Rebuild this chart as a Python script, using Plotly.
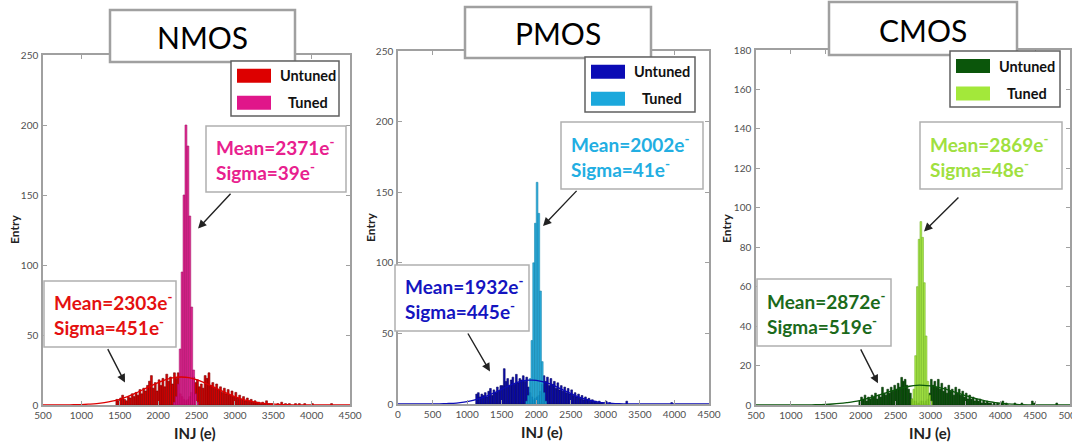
import plotly.graph_objects as go

W, H = 1072, 445

# ---------------- data ----------------
panels = ["NMOS", "PMOS", "CMOS"]

# untuned histograms (bin start, bin width, counts)
nmos_untuned_start, nmos_untuned_width = 1450, 25
nmos_untuned = [4, 3, 5, 7, 4, 3, 6, 5, 8, 6, 9, 7, 11, 8, 12, 10, 14, 17, 21, 12,
                16, 10, 18, 14, 19, 13, 22, 17, 20, 15, 23, 19, 23, 8, 6, 4, 3, 4, 6, 9,
                20, 16, 18, 13, 15, 12, 21, 19, 23, 14, 16, 12, 15, 11, 13, 9, 12, 8, 11, 7,
                10, 6, 9, 5, 7, 4, 6, 3, 5, 3, 4, 2, 3, 2, 2, 1, 2, 1, 3, 1, 1, 1]
nmos_tail_x = [3560, 3610, 3660, 3710, 3790, 3840, 3910, 4010, 4260]
nmos_tail_y = [1, 2, 1, 1, 1, 1, 1, 1, 1]

pmos_untuned_start, pmos_untuned_width = 1125, 25
pmos_untuned = [7, 8, 5, 7, 6, 8, 5, 9, 11, 6, 10, 8, 12, 9, 13, 13, 25, 16, 18, 13,
                17, 19, 14, 21, 15, 18, 17, 20, 16, 19, 12, 8, 5, 3, 4, 5, 6, 9, 14, 20,
                16, 19, 13, 18, 14, 16, 11, 15, 10, 13, 9, 12, 8, 11, 7, 10, 6, 8, 5, 7,
                4, 6, 3, 5, 3, 4, 2, 3, 2, 2, 1, 2, 1, 1, 0, 2, 0, 1, 0, 0]
pmos_tail_x = [3310, 3960]
pmos_tail_y = [2, 1]

cmos_untuned_start, cmos_untuned_width = 1975, 25
cmos_untuned = [2, 4, 3, 5, 2, 4, 3, 5, 4, 6, 3, 5, 4, 9, 6, 5, 8, 6, 9, 7,
                10, 8, 11, 9, 14, 12, 13, 10, 8, 6, 3, 2, 2, 1, 1, 2, 2, 1, 2, 3,
                6, 13, 10, 12, 9, 13, 8, 11, 7, 9, 6, 10, 7, 8, 5, 9, 6, 8, 5, 7,
                4, 6, 3, 5, 3, 4, 2, 3, 2, 3, 1, 2, 1, 2, 1, 1, 0, 1, 0, 1,
                0, 1, 2, 0, 1, 0]
cmos_tail_x = [4210, 4310, 4460, 4490, 4810]
cmos_tail_y = [1, 1, 2, 1, 1]

# tuned histograms
nmos_tuned_start, nmos_tuned_width = 2200, 25
nmos_tuned = [2, 6, 15, 40, 95, 150, 200, 185, 135, 70, 25, 8, 2]
pmos_tuned_start, pmos_tuned_width = 1850, 25
pmos_tuned = [2, 6, 18, 45, 100, 128, 157, 135, 80, 30, 8, 2]
cmos_tuned_start, cmos_tuned_width = 2725, 25
cmos_tuned = [3, 8, 25, 60, 84, 93, 85, 62, 35, 12, 5, 2]

# fit curves of the untuned distributions (read every 100 e)
nmos_fit_x = list(range(500, 4600, 100))
nmos_fit_y = [0, 0, 0, 0.1, 0.2, 0.3, 0.6, 1.0, 1.7, 2.7, 4.1, 6.0, 8.3, 10.9, 13.5, 16.0,
              18.1, 19.6, 20.0, 19.6, 18.1, 16.0, 13.5, 10.9, 8.3, 6.0, 4.1, 2.7, 1.7, 1.0,
              0.6, 0.3, 0.2, 0.1, 0, 0, 0, 0, 0, 0, 0]
pmos_fit_x = list(range(0, 4600, 100))
pmos_fit_y = [0, 0, 0, 0, 0, 0, 0.1, 0.3, 0.5, 1.0, 1.7, 2.7, 4.1, 5.9, 8.1, 10.4,
              12.8, 14.8, 16.3, 16.9, 16.8, 15.7, 14.2, 12.0, 9.7, 7.4, 5.3, 3.6, 2.3, 1.4,
              0.8, 0.4, 0.2, 0.1, 0, 0, 0, 0, 0, 0, 0, 0, 0, 0, 0, 0]
cmos_fit_x = list(range(500, 5100, 100))
cmos_fit_y = [0, 0, 0, 0, 0, 0, 0, 0, 0.1, 0.2, 0.3, 0.5, 0.8, 1.2, 1.7, 2.4,
              3.3, 4.3, 5.5, 6.6, 7.7, 8.7, 9.5, 10.0, 10.0, 9.7, 9.1, 8.2, 7.1, 6.0,
              4.8, 3.7, 2.8, 2.0, 1.4, 0.9, 0.6, 0.4, 0.2, 0.1, 0.1, 0, 0, 0, 0, 0]

means_tuned = ["2371", "2002", "2869"]
sigmas_tuned = ["39", "41", "48"]
means_untuned = ["2303", "1932", "2872"]
sigmas_untuned = ["451", "445", "519"]

x_ranges = [[500, 4500], [0, 4500], [500, 5000]]
x_ticks = [list(range(500, 5000, 500)), list(range(0, 5000, 500)), list(range(500, 5500, 500))]
y_ranges = [[0, 250], [0, 250], [0, 180]]
y_ticks = [list(range(0, 300, 50)), list(range(0, 300, 50)), list(range(0, 200, 20))]

untuned_colors = ["#DD0000", "#0B0BB5", "#0B560B"]
untuned_edges = ["#7A0000", "#050560", "#053005"]
tuned_colors = ["#E0168A", "#1BA8DC", "#A3E83A"]
tuned_edges = ["#A00A60", "#0E7FA8", "#6FB020"]
text_tuned_colors = ["#E8208E", "#22AEE2", "#A0E040"]
text_untuned_colors = ["#E41010", "#1414C0", "#1B6A1B"]

# ---------------- layout geometry (pixels) ----------------
plot_px = [(43, 350, 55, 405), (398, 709, 51, 404), (756, 1070, 50, 405)]
title_box = [(110, 295, 10, 62), (465, 651, 7, 58), (829, 1017, 2, 55)]
legend_box = [(231, 339, 61, 116), (585, 695, 57, 112), (950, 1060, 51, 107)]
tuned_box = [(206, 346, 126, 192), (561, 703, 122, 189), (920, 1062, 122, 189)]
untuned_box = [(44, 176, 281, 347), (395, 529, 265, 331), (757, 891, 279, 346)]
entry_pos = [(14, 230), (371, 228), (727, 228)]
inj_pos = [(195, 433), (542, 432), (930, 433)]
arrow_tuned = [((2962, 152), (2520, 126)), ((2605, 152), (2098, 126)), ((3423, 106), (2908, 88))]
arrow_untuned = [((1334, 41), (1568, 16)), ((999, 51), (1331, 23)), ((1990, 29), (2248, 11))]


def fx(x):
    return x / W


def fy(y):
    return 1 - y / H


def centers(start, width, n):
    return [start + width * (i + 0.5) for i in range(n)]


untuned_sets = [
    (nmos_untuned_start, nmos_untuned_width, nmos_untuned, nmos_tail_x, nmos_tail_y),
    (pmos_untuned_start, pmos_untuned_width, pmos_untuned, pmos_tail_x, pmos_tail_y),
    (cmos_untuned_start, cmos_untuned_width, cmos_untuned, cmos_tail_x, cmos_tail_y),
]
tuned_sets = [
    (nmos_tuned_start, nmos_tuned_width, nmos_tuned),
    (pmos_tuned_start, pmos_tuned_width, pmos_tuned),
    (cmos_tuned_start, cmos_tuned_width, cmos_tuned),
]
fit_sets = [(nmos_fit_x, nmos_fit_y), (pmos_fit_x, pmos_fit_y), (cmos_fit_x, cmos_fit_y)]

FONT = "Lato"
fig = go.Figure()
shapes = []
annotations = []
layout_axes = {}

for i in range(3):
    xa = "x" if i == 0 else f"x{i+1}"
    ya = "y" if i == 0 else f"y{i+1}"
    s, w, vals, tx, ty = untuned_sets[i]
    xs = centers(s, w, len(vals)) + tx
    ys = vals + ty
    fig.add_trace(go.Bar(x=xs, y=ys, width=w, xaxis=xa, yaxis=ya,
                         marker=dict(color=untuned_colors[i],
                                     line=dict(color=untuned_edges[i], width=0.6)),
                         showlegend=False, hoverinfo="x+y"))
    ts, tw, tv = tuned_sets[i]
    fig.add_trace(go.Bar(x=centers(ts, tw, len(tv)), y=tv, width=tw, xaxis=xa, yaxis=ya,
                         marker=dict(color=tuned_colors[i], opacity=0.92,
                                     line=dict(color=tuned_edges[i], width=0.6)),
                         showlegend=False, hoverinfo="x+y"))
    fxs, fys = fit_sets[i]
    fig.add_trace(go.Scatter(x=fxs, y=fys, mode="lines", xaxis=xa, yaxis=ya,
                             line=dict(color=untuned_colors[i], width=1.3, shape="spline"),
                             showlegend=False, hoverinfo="skip"))

    l, r, t, b = plot_px[i]
    axis_common = dict(showline=True, linecolor="#A0A0A0", linewidth=1.5, mirror="ticks",
                       ticks="inside", ticklen=4, tickcolor="#A0A0A0", showgrid=False,
                       zeroline=False, automargin=False,
                       tickfont=dict(family=FONT, size=10, color="#505050"))
    layout_axes["xaxis" if i == 0 else f"xaxis{i+1}"] = dict(
        domain=[fx(l), fx(r)], range=x_ranges[i], tickvals=x_ticks[i],
        anchor=ya, ticklabelstandoff=0, ticklabeloverflow="allow", **axis_common)
    layout_axes["yaxis" if i == 0 else f"yaxis{i+1}"] = dict(
        domain=[fy(b), fy(t)], range=y_ranges[i], tickvals=y_ticks[i],
        anchor=xa, ticklabelstandoff=1, **axis_common)

    # title box
    x0, x1, y0, y1 = title_box[i]
    shapes.append(dict(type="rect", xref="paper", yref="paper", x0=fx(x0), x1=fx(x1),
                       y0=fy(y1), y1=fy(y0), line=dict(color="#A0A0A0", width=2.5),
                       fillcolor="white", layer="above"))
    annotations.append(dict(xref="paper", yref="paper", x=fx((x0 + x1) / 2), y=fy((y0 + y1) / 2 + 1),
                            text=panels[i], showarrow=False, xanchor="center", yanchor="middle",
                            font=dict(family=FONT, size=30, color="black")))

    # legend box
    x0, x1, y0, y1 = legend_box[i]
    shapes.append(dict(type="rect", xref="paper", yref="paper", x0=fx(x0), x1=fx(x1),
                       y0=fy(y1), y1=fy(y0), line=dict(color="#606060", width=1.5),
                       fillcolor="white", layer="above"))
    sw_x0 = x0 + 6
    h = y1 - y0
    for k, (lab, col) in enumerate([("Untuned", untuned_colors[i]), ("Tuned", tuned_colors[i])]):
        cy = y0 + h * (0.27 if k == 0 else 0.76)
        shapes.append(dict(type="rect", xref="paper", yref="paper", x0=fx(sw_x0), x1=fx(sw_x0 + 34),
                           y0=fy(cy + 7), y1=fy(cy - 7), line=dict(width=0),
                           fillcolor=col, layer="above"))
        annotations.append(dict(xref="paper", yref="paper", x=fx(x0 + 77), y=fy(cy),
                                text=f"<b>{lab}</b>", showarrow=False, xanchor="center",
                                yanchor="middle", font=dict(family=FONT, size=14.5, color="#111")))

    # stat boxes
    for box, mean, sig, col in [(tuned_box[i], means_tuned[i], sigmas_tuned[i], text_tuned_colors[i]),
                                (untuned_box[i], means_untuned[i], sigmas_untuned[i], text_untuned_colors[i])]:
        x0, x1, y0, y1 = box
        shapes.append(dict(type="rect", xref="paper", yref="paper", x0=fx(x0), x1=fx(x1),
                           y0=fy(y1), y1=fy(y0), line=dict(color="#B0B0B0", width=1.5),
                           fillcolor="white", layer="above"))
        annotations.append(dict(xref="paper", yref="paper", x=fx(x0 + 8), y=fy((y0 + y1) / 2),
                                text=f"<b>Mean={mean}e<sup>-</sup></b><br><b>Sigma={sig}e<sup>-</sup></b>",
                                showarrow=False, xanchor="left", yanchor="middle", align="left",
                                font=dict(family=FONT, size=19, color=col)))

    # arrows
    for (tail, head) in [arrow_tuned[i], arrow_untuned[i]]:
        annotations.append(dict(xref=xa, yref=ya, axref=xa, ayref=ya, x=head[0], y=head[1],
                                ax=tail[0], ay=tail[1], text="", showarrow=True, arrowhead=2,
                                arrowsize=1.2, arrowwidth=1.4, arrowcolor="#222"))

    # axis labels
    annotations.append(dict(xref="paper", yref="paper", x=fx(entry_pos[i][0]), y=fy(entry_pos[i][1]),
                            text="<b>Entry</b>", textangle=-90, showarrow=False,
                            xanchor="center", yanchor="middle",
                            font=dict(family=FONT, size=12, color="#222")))
    annotations.append(dict(xref="paper", yref="paper", x=fx(inj_pos[i][0]), y=fy(inj_pos[i][1]),
                            text="<b>INJ (e)</b>", showarrow=False, xanchor="center", yanchor="middle",
                            font=dict(family=FONT, size=15, color="#222")))

fig.update_layout(width=W, height=H, margin=dict(l=0, r=0, t=0, b=0, autoexpand=False),
                  paper_bgcolor="white", plot_bgcolor="white", barmode="overlay",
                  shapes=shapes, annotations=annotations, showlegend=False,
                  **layout_axes)

fig.write_html("out.html", config={"displayModeBar": False},
               post_script="document.body.style.margin='0';document.body.style.overflow='hidden';")
